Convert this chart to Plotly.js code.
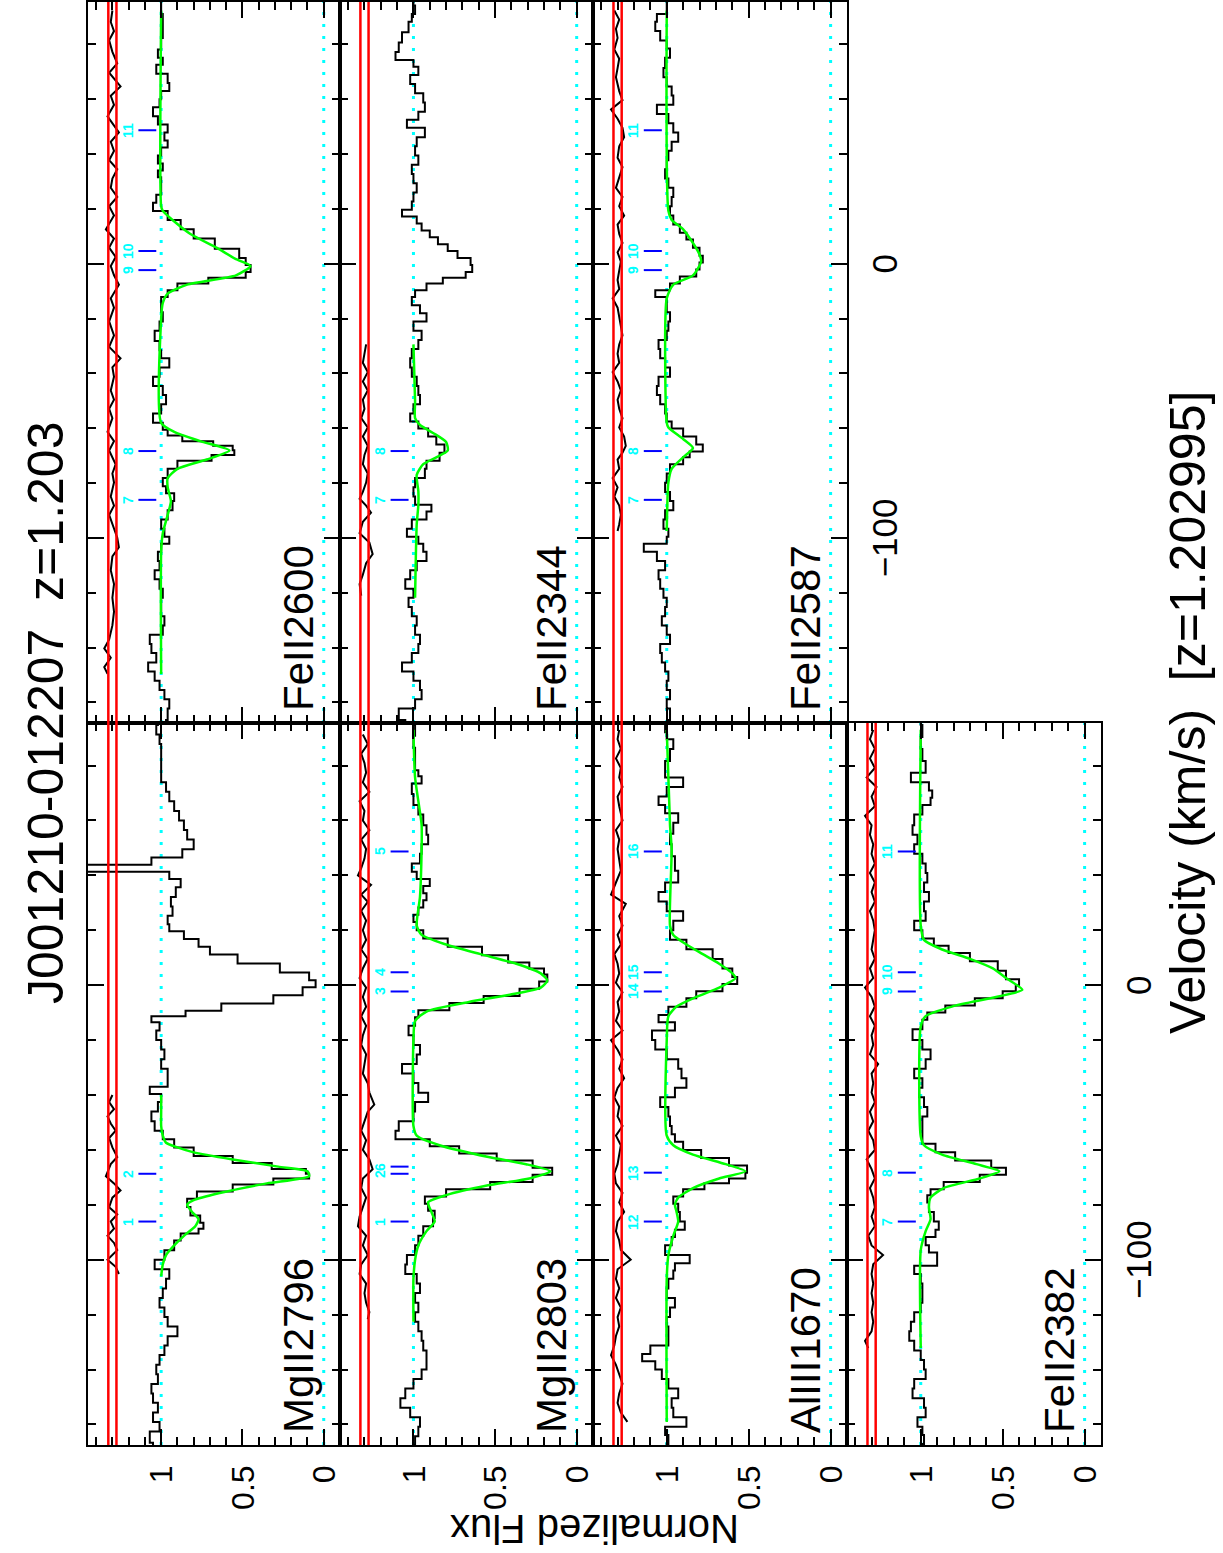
<!DOCTYPE html>
<html>
<head>
<meta charset="utf-8">
<script src="https://cdn.plot.ly/plotly-3.0.1.min.js"></script>
<style>
html, body { margin:0; padding:0; width:1223px; height:1553px; overflow:hidden; background:#ffffff; }
#wrap { position:absolute; left:0; top:0; width:1553px; height:1223px; transform-origin:0 0; transform:translate(0px,1553px) rotate(-90deg); }
</style>
</head>
<body>
<div id="wrap"></div>
<script>
// ---------------- data (velocity in km/s, normalized flux) ----------------
const vel_MgII2796 = [96.5, 93.0, 89.6, 86.1, 82.6, 79.1, 75.7, 72.2, 68.7, 65.2, 61.7, 58.3, 54.8, 51.3, 47.8, 45.2, 42.6, 40.0, 37.4, 33.9, 30.4, 27.0, 23.5, 20.9, 18.3, 15.3, 12.7, 9.6, 6.1, 3.1, 0.5, -2.1, -5.2, -8.2, -10.4, -12.2, -14.8, -18.3, -21.7, -25.2, -28.7, -32.2, -35.7, -38.3, -40.9, -44.3, -47.8, -51.3, -54.8, -57.4, -60.9, -63.5, -66.1, -67.8, -69.6, -71.3, -73.9, -76.5, -79.1, -82.6, -85.2, -87.8, -89.6, -91.3, -94.8, -98.3, -101.7, -105.2, -108.7, -112.2, -115.7, -119.1, -122.6, -126.1, -129.6, -133.0, -136.5, -140.0, -143.5, -147.0, -150.4, -153.9, -157.4, -160.9, -164.3, -169.0];
const flux_MgII2796 = [1.02, 1.03, 1.01, 1.00, 1.00, 1.00, 1.00, 0.97, 0.95, 0.92, 0.89, 0.86, 0.84, 0.80, 0.87, 1.06, 1.48, 0.95, 0.88, 0.91, 0.94, 0.93, 0.96, 0.95, 0.86, 0.77, 0.70, 0.53, 0.27, 0.09, 0.05, 0.13, 0.31, 0.63, 0.85, 1.06, 1.01, 1.03, 1.00, 0.98, 1.00, 0.96, 0.96, 1.07, 1.00, 1.02, 1.06, 1.04, 0.99, 0.92, 0.80, 0.56, 0.32, 0.11, 0.09, 0.31, 0.56, 0.78, 0.84, 0.82, 0.76, 0.74, 0.77, 0.88, 0.92, 0.98, 1.04, 0.95, 0.97, 0.99, 1.01, 0.98, 0.96, 0.90, 0.96, 0.98, 1.01, 1.03, 1.02, 1.06, 1.05, 1.02, 1.05, 1.01, 1.07, 1.05];
const fitVel_MgII2796 = [-40.0, -46.1, -51.3, -54.8, -57.4, -59.1, -60.9, -63.5, -66.1, -67.8, -69.6, -72.2, -75.7, -78.3, -80.0, -82.6, -85.2, -87.8, -91.3, -94.8, -98.3, -101.7, -106.1];
const fitFlux_MgII2796 = [1.00, 1.00, 1.00, 0.99, 0.97, 0.90, 0.80, 0.56, 0.28, 0.10, 0.09, 0.35, 0.64, 0.80, 0.84, 0.81, 0.77, 0.79, 0.86, 0.92, 0.97, 0.99, 1.00];
const resVel_MgII2796 = [-40.0, -42.6, -45.2, -47.8, -50.4, -53.0, -55.7, -59.1, -62.6, -65.2, -69.6, -72.2, -74.8, -77.4, -80.9, -83.5, -86.1, -88.7, -91.3, -93.9, -96.5, -100.0, -102.6, -105.2];
const resFlux_MgII2796 = [1.30, 1.32, 1.29, 1.33, 1.31, 1.28, 1.32, 1.30, 1.27, 1.31, 1.34, 1.29, 1.25, 1.30, 1.32, 1.27, 1.31, 1.29, 1.33, 1.29, 1.27, 1.33, 1.28, 1.26];
const compVel_MgII2796 = [-86.1, -68.7];
const compLab_MgII2796 = ['1', '2'];

const vel_MgII2803 = [96.5, 93.0, 88.7, 84.3, 79.1, 77.4, 74.8, 72.2, 67.0, 64.3, 60.0, 56.5, 53.0, 49.6, 46.1, 42.6, 40.0, 37.4, 34.8, 32.2, 29.6, 27.0, 24.3, 21.7, 18.3, 15.7, 12.2, 9.6, 7.0, 5.2, 2.6, 0.0, -2.6, -5.2, -7.8, -10.4, -13.0, -16.5, -20.0, -23.5, -27.0, -30.4, -33.9, -37.4, -40.9, -44.3, -47.8, -51.3, -54.8, -57.4, -60.0, -62.6, -65.2, -67.8, -70.4, -73.0, -75.7, -78.3, -80.9, -83.5, -86.1, -89.6, -93.0, -96.5, -100.0, -103.5, -107.0, -110.4, -113.9, -117.4, -120.9, -124.3, -127.8, -131.3, -134.8, -138.3, -141.7, -145.2, -148.7, -152.2, -155.7, -159.1, -162.6, -166.0, -169.0];
const flux_MgII2803 = [1.00, 0.99, 1.00, 0.99, 0.99, 0.97, 0.95, 1.01, 1.00, 0.97, 0.94, 0.92, 0.91, 0.95, 0.96, 1.01, 0.98, 0.90, 0.94, 0.92, 0.94, 0.97, 1.00, 0.98, 0.94, 0.79, 0.58, 0.42, 0.29, 0.20, 0.18, 0.23, 0.35, 0.57, 0.78, 0.97, 0.99, 1.03, 1.00, 0.96, 0.98, 1.07, 1.00, 0.97, 0.91, 0.99, 1.00, 1.09, 1.11, 0.90, 0.72, 0.49, 0.27, 0.15, 0.27, 0.53, 0.80, 0.93, 0.91, 0.87, 0.88, 0.94, 0.97, 0.99, 1.04, 1.05, 0.98, 0.96, 0.99, 0.97, 0.99, 0.97, 0.95, 0.94, 0.92, 0.92, 0.95, 1.00, 1.05, 1.08, 1.02, 0.96, 0.97, 0.99, 1.00];
const fitVel_MgII2803 = [93.0, 75.7, 58.3, 49.6, 32.2, 21.7, 18.3, 14.8, 11.3, 7.8, 4.3, 1.7, -0.9, -3.5, -6.1, -9.6, -13.0, -20.0, -51.3, -54.8, -58.3, -62.6, -65.2, -67.8, -70.4, -73.0, -76.5, -79.1, -82.6, -86.1, -89.6, -94.8, -100.0, -107.0, -122.6];
const fitFlux_MgII2803 = [1.00, 0.99, 0.95, 0.95, 0.96, 0.98, 0.95, 0.80, 0.59, 0.37, 0.22, 0.18, 0.22, 0.41, 0.66, 0.92, 0.99, 1.00, 1.00, 0.98, 0.84, 0.54, 0.31, 0.16, 0.29, 0.55, 0.80, 0.91, 0.89, 0.87, 0.92, 0.97, 0.99, 1.00, 1.00];
const resVel_MgII2803 = [91.3, 87.8, 84.3, 80.9, 77.4, 73.9, 70.4, 67.0, 63.5, 60.0, 56.5, 53.0, 49.6, 46.1, 42.6, 40.0, 36.5, 33.0, 30.4, 27.0, 23.5, 20.0, 16.5, 13.0, 9.6, 6.1, 2.6, -0.9, -4.3, -7.8, -11.3, -14.8, -18.3, -21.7, -25.2, -28.7, -32.2, -35.7, -39.1, -43.5, -46.1, -49.6, -53.0, -56.5, -60.0, -63.5, -67.0, -70.4, -73.9, -77.4, -80.9, -84.3, -87.8, -91.3, -94.8, -98.3, -101.7, -105.2, -108.7, -112.2, -115.7, -119.1, -121.7];
const resFlux_MgII2803 = [1.31, 1.28, 1.32, 1.30, 1.29, 1.31, 1.27, 1.33, 1.30, 1.31, 1.27, 1.32, 1.29, 1.30, 1.32, 1.34, 1.26, 1.32, 1.28, 1.32, 1.29, 1.31, 1.29, 1.32, 1.28, 1.31, 1.33, 1.29, 1.31, 1.29, 1.32, 1.29, 1.31, 1.32, 1.29, 1.30, 1.31, 1.28, 1.27, 1.24, 1.28, 1.30, 1.32, 1.29, 1.31, 1.27, 1.25, 1.31, 1.32, 1.29, 1.31, 1.33, 1.34, 1.29, 1.31, 1.28, 1.32, 1.33, 1.29, 1.30, 1.29, 1.27, 1.28];
const compVel_MgII2803 = [-86.1, -68.7, -66.1, -2.3, 4.7, 48.7];
const compLab_MgII2803 = ['1', '2', '6', '3', '4', '5'];

const vel_AlIII1670 = [96.5, 93.0, 91.3, 87.8, 84.3, 79.1, 77.4, 73.9, 70.4, 67.0, 64.3, 60.9, 57.4, 53.0, 49.6, 44.3, 39.1, 35.7, 32.2, 28.7, 25.2, 21.7, 18.3, 14.8, 11.3, 7.8, 4.3, 1.7, -0.9, -3.5, -6.1, -9.6, -12.2, -14.8, -18.3, -21.7, -25.2, -28.7, -32.2, -35.7, -39.1, -42.6, -46.1, -49.6, -53.0, -55.7, -58.3, -61.7, -64.3, -67.0, -69.6, -71.3, -73.0, -75.7, -78.3, -80.9, -84.3, -87.8, -90.4, -93.0, -96.5, -100.0, -102.6, -105.2, -108.7, -112.2, -115.7, -119.1, -122.6, -126.1, -129.6, -133.0, -135.7, -138.3, -141.7, -145.2, -148.7, -152.2, -155.7, -159.1, -162.6, -165.2, -169.0];
const flux_AlIII1670 = [1.00, 1.01, 1.00, 0.96, 0.98, 1.01, 1.01, 0.90, 1.00, 1.05, 1.01, 0.93, 0.96, 0.98, 0.97, 0.95, 0.93, 1.01, 1.05, 1.00, 0.90, 0.96, 0.98, 0.88, 0.72, 0.66, 0.60, 0.57, 0.66, 0.82, 0.88, 0.99, 1.05, 0.95, 1.09, 1.07, 1.00, 0.93, 0.91, 0.88, 0.95, 1.04, 0.99, 0.98, 0.97, 0.95, 0.90, 0.79, 0.62, 0.51, 0.52, 0.62, 0.77, 0.90, 0.96, 0.93, 0.92, 0.89, 0.95, 0.97, 1.01, 0.86, 0.95, 0.96, 0.99, 1.00, 0.95, 0.98, 1.00, 0.99, 0.99, 1.10, 1.15, 1.07, 1.03, 0.99, 0.93, 0.97, 0.96, 0.88, 1.01, 0.99, 1.00];
const fitVel_AlIII1670 = [93.0, 58.3, 49.6, 21.7, 18.3, 14.8, 11.3, 7.8, 4.3, 2.6, -0.9, -4.3, -7.8, -11.3, -20.0, -54.8, -58.3, -61.7, -65.2, -67.8, -70.4, -73.9, -77.4, -80.0, -82.6, -86.1, -91.3, -98.3, -107.0, -159.1];
const fitFlux_AlIII1670 = [1.00, 0.98, 0.97, 0.98, 0.96, 0.88, 0.78, 0.68, 0.60, 0.58, 0.68, 0.82, 0.94, 0.99, 1.00, 1.00, 0.96, 0.84, 0.64, 0.52, 0.68, 0.84, 0.93, 0.95, 0.94, 0.93, 0.96, 0.99, 1.00, 1.00];
const resVel_AlIII1670 = [93.0, 89.6, 86.1, 82.6, 79.1, 75.7, 72.2, 68.7, 65.2, 60.0, 56.5, 53.0, 49.6, 46.1, 41.7, 37.4, 33.0, 29.6, 25.2, 21.7, 18.3, 14.8, 11.3, 7.8, 4.3, 0.9, -2.6, -6.1, -9.6, -13.0, -16.5, -20.0, -23.5, -27.0, -30.4, -33.9, -37.4, -40.9, -44.3, -47.8, -51.3, -54.8, -58.3, -61.7, -65.2, -68.7, -72.2, -75.7, -79.1, -82.6, -86.1, -89.6, -93.0, -96.5, -100.0, -103.5, -107.0, -110.4, -113.9, -117.4, -120.9, -124.3, -127.8, -131.3, -134.8, -138.3, -141.7, -145.2, -148.7, -152.2, -155.7, -159.1];
const resFlux_AlIII1670 = [1.29, 1.30, 1.28, 1.31, 1.28, 1.29, 1.27, 1.30, 1.29, 1.27, 1.31, 1.29, 1.30, 1.29, 1.28, 1.31, 1.34, 1.25, 1.29, 1.27, 1.30, 1.28, 1.32, 1.30, 1.29, 1.31, 1.27, 1.30, 1.29, 1.31, 1.27, 1.34, 1.30, 1.27, 1.29, 1.26, 1.30, 1.32, 1.29, 1.30, 1.27, 1.31, 1.28, 1.29, 1.30, 1.32, 1.31, 1.27, 1.29, 1.26, 1.30, 1.31, 1.29, 1.28, 1.22, 1.30, 1.31, 1.29, 1.31, 1.28, 1.30, 1.29, 1.31, 1.32, 1.34, 1.31, 1.29, 1.27, 1.29, 1.30, 1.28, 1.24];
const compVel_AlIII1670 = [-86.1, -68.3, -2.3, 4.7, 48.7];
const compLab_AlIII1670 = ['12', '13', '14', '15', '16'];

const vel_FeII2382 = [96.5, 93.0, 87.8, 84.3, 79.1, 75.7, 72.2, 69.6, 67.0, 64.3, 60.0, 56.5, 53.0, 49.6, 46.1, 42.6, 39.1, 35.7, 32.2, 28.7, 25.2, 21.7, 18.3, 15.7, 13.0, 10.4, 7.0, 3.5, 0.9, -0.9, -3.5, -6.1, -8.7, -11.3, -13.9, -18.3, -21.7, -25.2, -28.7, -32.2, -35.7, -39.1, -42.6, -46.1, -49.6, -53.0, -56.5, -59.1, -62.6, -65.2, -67.8, -70.4, -73.0, -75.7, -77.4, -80.9, -84.3, -87.8, -90.4, -93.0, -96.5, -98.3, -100.9, -103.5, -107.0, -110.4, -113.9, -117.4, -120.9, -124.3, -127.8, -131.3, -134.8, -138.3, -141.7, -145.2, -148.7, -152.2, -155.7, -159.1, -162.6, -165.2, -169.0];
const flux_FeII2382 = [1.00, 0.99, 1.00, 0.99, 0.97, 1.06, 0.95, 0.93, 0.94, 0.99, 1.04, 1.05, 1.02, 1.04, 0.99, 0.97, 0.96, 0.98, 0.95, 0.98, 0.97, 1.04, 0.99, 0.92, 0.83, 0.70, 0.53, 0.48, 0.40, 0.42, 0.50, 0.67, 0.85, 0.96, 0.99, 1.05, 0.99, 0.94, 0.97, 1.04, 0.99, 1.01, 0.98, 0.96, 0.99, 0.99, 0.99, 0.91, 0.79, 0.57, 0.48, 0.64, 0.86, 0.94, 0.96, 0.95, 0.92, 0.89, 0.91, 0.97, 0.95, 0.90, 0.90, 1.04, 1.00, 0.99, 0.99, 1.00, 1.04, 1.06, 1.07, 1.04, 1.00, 0.98, 0.97, 1.04, 1.05, 0.98, 0.97, 1.02, 0.99, 0.98, 0.99];
const fitVel_FeII2382 = [93.0, 21.7, 16.5, 13.0, 9.6, 6.1, 2.6, -1.7, -4.3, -7.8, -11.3, -15.0, -55.0, -58.3, -61.7, -65.2, -67.8, -70.4, -73.9, -77.4, -80.9, -85.2, -89.6, -96.5, -132.2];
const fitFlux_FeII2382 = [1.00, 1.00, 0.98, 0.87, 0.70, 0.56, 0.48, 0.38, 0.54, 0.81, 0.97, 1.00, 1.00, 0.98, 0.87, 0.66, 0.52, 0.64, 0.86, 0.94, 0.95, 0.94, 0.97, 1.00, 1.00];
const resVel_FeII2382 = [93.0, 89.6, 86.1, 82.6, 79.1, 75.7, 72.2, 68.7, 65.2, 61.7, 58.3, 54.8, 51.3, 47.8, 44.3, 40.9, 37.4, 33.9, 30.4, 27.0, 23.5, 20.0, 16.5, 13.0, 9.6, 6.1, 2.6, -0.9, -4.3, -7.8, -11.3, -14.8, -18.3, -21.7, -25.2, -28.7, -32.2, -35.7, -39.1, -42.6, -46.1, -49.6, -53.0, -56.5, -60.0, -63.5, -67.0, -70.4, -73.9, -77.4, -80.9, -84.3, -87.8, -91.3, -94.8, -98.3, -101.7, -105.2, -108.7, -112.2, -115.7, -119.1, -122.6, -126.1, -129.6, -132.2];
const resFlux_FeII2382 = [1.29, 1.31, 1.28, 1.31, 1.28, 1.33, 1.27, 1.30, 1.28, 1.34, 1.30, 1.31, 1.29, 1.30, 1.28, 1.31, 1.28, 1.30, 1.28, 1.31, 1.29, 1.28, 1.29, 1.30, 1.28, 1.31, 1.29, 1.34, 1.30, 1.28, 1.31, 1.28, 1.30, 1.29, 1.31, 1.26, 1.30, 1.29, 1.30, 1.28, 1.31, 1.29, 1.32, 1.29, 1.28, 1.33, 1.30, 1.28, 1.31, 1.29, 1.28, 1.30, 1.28, 1.32, 1.30, 1.23, 1.29, 1.30, 1.29, 1.30, 1.29, 1.30, 1.29, 1.30, 1.34, 1.32];
const compVel_FeII2382 = [-86.1, -68.3, -2.3, 4.7, 48.7];
const compLab_FeII2382 = ['7', '8', '9', '10', '11'];

const vel_FeII2600 = [96.0, 92.4, 89.9, 84.9, 79.8, 76.5, 73.9, 71.4, 67.2, 64.7, 61.3, 58.8, 55.5, 52.1, 49.6, 46.2, 43.7, 41.2, 37.8, 35.3, 32.8, 30.3, 26.9, 23.5, 21.0, 17.6, 14.3, 10.9, 7.6, 3.4, 0.8, -1.7, -4.2, -5.9, -8.4, -10.9, -13.4, -16.0, -19.3, -22.7, -26.1, -30.3, -32.8, -36.1, -39.5, -42.9, -46.2, -49.6, -52.9, -56.3, -59.7, -61.3, -63.9, -65.5, -67.2, -68.9, -70.6, -73.1, -76.5, -79.8, -82.4, -84.9, -88.2, -91.6, -95.0, -98.3, -100.8, -103.4, -106.7, -110.1, -113.4, -116.8, -120.2, -123.5, -126.9, -130.3, -133.6, -137.0, -140.3, -143.7, -147.1, -150.4, -153.8, -157.1, -160.5, -163.9, -169.0];
const flux_FeII2600 = [1.00, 1.00, 0.99, 0.99, 1.00, 1.02, 0.99, 1.03, 0.96, 0.95, 1.00, 1.01, 1.05, 1.02, 0.96, 0.98, 0.96, 1.00, 1.02, 0.99, 1.02, 1.00, 1.00, 1.03, 1.05, 0.96, 0.88, 0.80, 0.67, 0.52, 0.48, 0.45, 0.48, 0.71, 0.90, 0.96, 1.00, 1.00, 0.99, 1.01, 1.04, 1.01, 1.00, 0.95, 1.01, 1.05, 0.99, 0.97, 1.00, 1.05, 0.99, 0.96, 0.87, 0.68, 0.56, 0.55, 0.69, 0.90, 0.96, 0.99, 0.97, 0.92, 0.93, 0.96, 1.00, 0.98, 0.95, 1.00, 1.02, 1.01, 1.04, 1.01, 0.99, 1.00, 1.00, 0.98, 0.99, 1.07, 1.06, 1.03, 1.08, 1.04, 1.01, 0.98, 0.95, 0.96, 0.97];
const fitVel_FeII2600 = [92.4, 21.0, 19.3, 16.0, 10.9, 5.9, 1.7, -0.8, -4.2, -7.6, -10.9, -14.3, -20.0, -58.0, -61.3, -64.7, -68.1, -71.4, -74.8, -78.2, -81.5, -86.6, -91.6, -98.3, -105.0, -149.6];
const fitFlux_FeII2600 = [1.00, 1.00, 0.99, 0.93, 0.82, 0.66, 0.54, 0.45, 0.54, 0.84, 0.96, 0.99, 1.00, 1.00, 0.92, 0.76, 0.58, 0.72, 0.90, 0.96, 0.96, 0.94, 0.96, 0.99, 1.00, 1.00];
const resVel_FeII2600 = [92.4, 88.2, 84.9, 81.5, 77.3, 73.1, 69.7, 64.7, 61.3, 58.0, 53.8, 50.4, 47.9, 44.5, 41.2, 37.8, 34.5, 31.1, 27.7, 24.4, 21.0, 17.6, 12.6, 9.2, 5.9, 2.5, -0.8, -4.2, -7.6, -12.6, -16.0, -21.0, -26.1, -30.3, -34.5, -37.8, -41.2, -46.2, -49.6, -52.9, -56.3, -61.3, -64.7, -68.1, -73.1, -76.5, -79.8, -84.9, -88.2, -91.6, -96.6, -99.9, -103.4, -106.7, -111.8, -116.8, -121.8, -126.9, -131.9, -137.0, -140.3, -143.7, -147.1, -149.6];
const resFlux_FeII2600 = [1.30, 1.31, 1.29, 1.32, 1.30, 1.27, 1.32, 1.25, 1.31, 1.29, 1.33, 1.29, 1.26, 1.31, 1.29, 1.32, 1.27, 1.30, 1.31, 1.27, 1.32, 1.29, 1.34, 1.29, 1.32, 1.28, 1.31, 1.29, 1.26, 1.31, 1.29, 1.32, 1.29, 1.32, 1.25, 1.30, 1.29, 1.31, 1.29, 1.32, 1.30, 1.33, 1.29, 1.32, 1.28, 1.30, 1.29, 1.31, 1.29, 1.32, 1.29, 1.27, 1.26, 1.30, 1.31, 1.29, 1.30, 1.29, 1.30, 1.32, 1.35, 1.31, 1.35, 1.33];
const compVel_FeII2600 = [-86.1, -68.3, -2.3, 4.7, 48.7];
const compLab_FeII2600 = ['7', '8', '9', '10', '11'];

const vel_FeII2344 = [96.0, 92.4, 89.9, 86.6, 82.4, 79.0, 75.6, 73.1, 70.6, 67.2, 63.9, 60.5, 57.1, 53.8, 51.3, 47.9, 44.5, 41.2, 37.8, 34.5, 31.1, 27.7, 24.4, 21.0, 18.5, 16.0, 13.4, 10.9, 8.4, 5.9, 3.4, 0.8, -1.7, -4.2, -5.9, -8.4, -10.9, -13.4, -16.8, -19.3, -22.7, -26.1, -29.4, -32.8, -36.1, -39.5, -42.9, -46.2, -49.6, -52.9, -56.3, -58.8, -61.3, -64.7, -67.2, -70.6, -73.1, -76.5, -79.8, -83.2, -86.6, -89.1, -91.6, -95.0, -98.3, -100.8, -103.4, -106.7, -110.1, -113.4, -116.8, -120.2, -123.5, -126.9, -130.3, -133.6, -137.0, -140.3, -143.7, -147.1, -150.4, -153.8, -157.1, -160.5, -163.9, -169.0];
const flux_FeII2344 = [1.00, 0.99, 1.01, 1.03, 1.07, 1.09, 1.11, 1.00, 0.97, 1.02, 0.99, 0.94, 0.93, 0.97, 1.04, 0.93, 0.98, 0.99, 0.97, 1.01, 1.00, 0.98, 1.00, 1.01, 1.07, 0.98, 0.95, 0.90, 0.85, 0.79, 0.73, 0.65, 0.64, 0.68, 0.82, 0.92, 0.99, 1.01, 0.96, 0.92, 1.00, 0.95, 0.97, 1.01, 1.02, 1.01, 0.98, 0.97, 0.96, 1.00, 1.02, 0.97, 0.91, 0.86, 0.81, 0.84, 0.92, 0.93, 0.99, 1.00, 0.99, 0.89, 0.92, 1.01, 1.04, 0.97, 0.94, 0.92, 0.98, 1.02, 1.05, 1.00, 1.03, 1.01, 0.98, 0.99, 0.96, 0.97, 1.01, 1.07, 1.00, 0.96, 0.95, 0.99, 1.09, 1.05];
const fitVel_FeII2344 = [-29.4, -50.0, -56.3, -58.8, -61.7, -65.0, -68.1, -70.6, -73.1, -77.0, -83.0, -88.0, -95.0, -121.8];
const fitFlux_FeII2344 = [1.00, 0.99, 0.99, 0.96, 0.88, 0.80, 0.79, 0.86, 0.94, 0.98, 0.97, 0.97, 0.98, 0.99];
const resVel_FeII2344 = [-29.4, -32.8, -36.1, -39.5, -42.9, -46.2, -49.6, -52.9, -56.3, -59.7, -63.0, -66.4, -69.7, -73.1, -76.5, -79.8, -83.2, -85.7, -88.2, -90.8, -94.1, -98.3, -101.7, -105.9, -109.2, -113.4, -116.8, -121.0];
const resFlux_FeII2344 = [1.29, 1.30, 1.31, 1.28, 1.31, 1.28, 1.31, 1.30, 1.32, 1.28, 1.31, 1.28, 1.30, 1.31, 1.28, 1.29, 1.31, 1.33, 1.29, 1.26, 1.31, 1.33, 1.27, 1.25, 1.29, 1.31, 1.33, 1.32];
const compVel_FeII2344 = [-86.1, -68.3];
const compLab_FeII2344 = ['7', '8'];

const vel_FeII2587 = [96.0, 92.4, 89.9, 86.6, 83.2, 79.8, 77.3, 73.1, 69.7, 66.4, 63.0, 59.7, 56.3, 52.9, 49.6, 46.2, 42.9, 39.5, 36.1, 32.8, 29.4, 26.1, 22.7, 19.3, 16.0, 12.6, 10.1, 7.6, 4.2, 1.7, -0.8, -3.4, -5.9, -8.4, -10.9, -13.4, -16.0, -19.3, -22.7, -26.1, -29.4, -32.8, -36.1, -39.5, -42.9, -46.2, -49.6, -52.9, -56.3, -58.8, -61.3, -64.7, -67.2, -69.7, -71.4, -74.8, -78.2, -81.5, -84.9, -88.2, -91.6, -95.0, -98.3, -100.8, -103.4, -106.7, -110.1, -113.4, -116.8, -120.2, -123.5, -126.9, -130.3, -133.6, -137.0, -140.3, -143.7, -147.1, -150.4, -153.8, -157.1, -160.5, -163.9, -169.0];
const flux_FeII2587 = [1.00, 1.00, 1.06, 1.07, 1.04, 1.00, 0.98, 1.01, 1.02, 1.00, 0.97, 0.96, 1.06, 0.99, 0.96, 0.93, 0.97, 0.99, 1.00, 1.01, 0.99, 0.96, 0.97, 0.98, 0.96, 0.92, 0.88, 0.84, 0.80, 0.78, 0.80, 0.82, 0.92, 0.98, 1.07, 1.00, 1.00, 0.98, 0.99, 1.00, 1.05, 1.04, 1.01, 0.98, 1.05, 1.06, 1.04, 1.01, 1.00, 0.97, 0.90, 0.82, 0.78, 0.86, 0.90, 0.98, 1.00, 1.01, 0.98, 0.96, 1.01, 1.02, 0.99, 1.00, 1.14, 1.06, 1.01, 1.05, 1.04, 1.02, 1.00, 1.01, 1.03, 1.00, 0.98, 1.04, 1.03, 1.01, 0.99, 1.00, 0.98, 1.00, 0.98, 0.99];
const fitVel_FeII2587 = [92.4, 19.3, 16.0, 12.6, 7.6, 3.4, 0.8, -4.2, -7.6, -12.6, -58.0, -59.7, -63.9, -67.2, -70.6, -74.8, -79.8, -97.5];
const fitFlux_FeII2587 = [1.00, 0.99, 0.97, 0.90, 0.84, 0.80, 0.79, 0.84, 0.96, 1.00, 1.00, 0.99, 0.90, 0.84, 0.90, 0.97, 0.99, 1.00];
const resVel_FeII2587 = [92.4, 89.1, 85.7, 82.4, 78.2, 74.8, 71.4, 68.1, 63.0, 59.7, 56.3, 52.9, 49.6, 46.2, 42.9, 38.7, 35.3, 31.1, 27.7, 24.4, 21.0, 17.6, 14.3, 10.9, 7.6, 4.2, 0.8, -2.5, -5.9, -9.2, -12.6, -16.0, -19.3, -22.7, -26.1, -29.4, -32.8, -36.1, -39.5, -42.9, -46.2, -49.6, -52.9, -56.3, -59.7, -63.0, -66.4, -68.9, -71.4, -74.8, -78.2, -81.5, -84.9, -88.2, -91.6, -95.0, -97.5];
const resFlux_FeII2587 = [1.32, 1.29, 1.31, 1.30, 1.32, 1.29, 1.30, 1.31, 1.29, 1.27, 1.34, 1.30, 1.27, 1.26, 1.29, 1.30, 1.27, 1.29, 1.31, 1.27, 1.29, 1.26, 1.30, 1.29, 1.27, 1.30, 1.28, 1.29, 1.30, 1.29, 1.33, 1.30, 1.29, 1.28, 1.27, 1.29, 1.30, 1.29, 1.33, 1.30, 1.28, 1.30, 1.29, 1.27, 1.29, 1.26, 1.25, 1.27, 1.30, 1.29, 1.33, 1.30, 1.32, 1.29, 1.28, 1.29, 1.30];
const compVel_FeII2587 = [-86.1, -68.3, -2.3, 4.7, 48.7];
const compLab_FeII2587 = ['7', '8', '9', '10', '11'];

// reference levels
const redLevels = [1.275, 1.325];
const guideLevels = [0, 1];
const fluxTickVals = [0, 0.5, 1];
const fluxTickText = ['0', '0.5', '1'];

// ---------------- layout (landscape page, rotated afterwards) ----------------
const FONT = 'Liberation Sans, Arial, Helvetica, sans-serif';
const W = 1553, H = 1223;
const colPx = [[108, 830], [830, 1551]];
const rowPx = [[88, 340], [340, 593], [593, 847], [847, 1101]];
const velRange = [-167.5, 95.5];
const fluxRange = [-0.1, 1.45];

const panels = [
  {label: 'MgII2796', col: 0, row: 0, v: vel_MgII2796, f: flux_MgII2796, fv: fitVel_MgII2796, ff: fitFlux_MgII2796, rv: resVel_MgII2796, rf: resFlux_MgII2796, cv: compVel_MgII2796, cl: compLab_MgII2796},
  {label: 'MgII2803', col: 0, row: 1, v: vel_MgII2803, f: flux_MgII2803, fv: fitVel_MgII2803, ff: fitFlux_MgII2803, rv: resVel_MgII2803, rf: resFlux_MgII2803, cv: compVel_MgII2803, cl: compLab_MgII2803},
  {label: 'AlIII1670', col: 0, row: 2, v: vel_AlIII1670, f: flux_AlIII1670, fv: fitVel_AlIII1670, ff: fitFlux_AlIII1670, rv: resVel_AlIII1670, rf: resFlux_AlIII1670, cv: compVel_AlIII1670, cl: compLab_AlIII1670},
  {label: 'FeII2382', col: 0, row: 3, v: vel_FeII2382, f: flux_FeII2382, fv: fitVel_FeII2382, ff: fitFlux_FeII2382, rv: resVel_FeII2382, rf: resFlux_FeII2382, cv: compVel_FeII2382, cl: compLab_FeII2382},
  {label: 'FeII2600', col: 1, row: 0, v: vel_FeII2600, f: flux_FeII2600, fv: fitVel_FeII2600, ff: fitFlux_FeII2600, rv: resVel_FeII2600, rf: resFlux_FeII2600, cv: compVel_FeII2600, cl: compLab_FeII2600},
  {label: 'FeII2344', col: 1, row: 1, v: vel_FeII2344, f: flux_FeII2344, fv: fitVel_FeII2344, ff: fitFlux_FeII2344, rv: resVel_FeII2344, rf: resFlux_FeII2344, cv: compVel_FeII2344, cl: compLab_FeII2344},
  {label: 'FeII2587', col: 1, row: 2, v: vel_FeII2587, f: flux_FeII2587, fv: fitVel_FeII2587, ff: fitFlux_FeII2587, rv: resVel_FeII2587, rf: resFlux_FeII2587, cv: compVel_FeII2587, cl: compLab_FeII2587}
];

const layout = {
  width: W, height: H,
  margin: {l: 0, r: 0, t: 0, b: 0, pad: 0},
  paper_bgcolor: '#ffffff', plot_bgcolor: '#ffffff',
  showlegend: false,
  font: {family: FONT, color: '#000000'},
  shapes: [], annotations: []
};
const traces = [];

const axisStyle = {
  showline: true, linecolor: '#000000', linewidth: 2, mirror: 'allticks',
  ticks: 'inside', tickwidth: 2, tickcolor: '#000000',
  showgrid: false, zeroline: false, fixedrange: true
};

panels.forEach((p, i) => {
  const k = i + 1;
  const sfx = k === 1 ? '' : String(k);
  const xa = 'x' + sfx, ya = 'y' + sfx;
  const bottomRow = (p.col === 0 && p.row === 3) || (p.col === 1 && p.row === 2);
  const cx = colPx[p.col], ry = rowPx[p.row];

  layout['xaxis' + sfx] = Object.assign({}, axisStyle, {
    domain: [cx[0] / W, cx[1] / W], range: velRange, anchor: ya,
    tickmode: 'linear', tick0: 0, dtick: 100, ticklen: 16,
    minor: {ticks: 'inside', tickmode: 'linear', tick0: 0, dtick: 20, ticklen: 8, tickwidth: 2, tickcolor: '#000000', showgrid: false},
    showticklabels: bottomRow, tickfont: {family: FONT, size: 35, color: '#000000'},
    ticklabelstandoff: 6
  });
  layout['yaxis' + sfx] = Object.assign({}, axisStyle, {
    domain: [1 - ry[1] / H, 1 - ry[0] / H], range: fluxRange, anchor: xa,
    tickmode: 'array', tickvals: fluxTickVals, ticktext: fluxTickText, ticklen: 16,
    minor: {ticks: 'inside', tickmode: 'linear', tick0: 0, dtick: 0.1, ticklen: 8, tickwidth: 2, tickcolor: '#000000', showgrid: false},
    showticklabels: p.col === 0, tickfont: {family: FONT, size: 32, color: '#000000'},
    ticklabelstandoff: 12
  });

  // spectrum (histogram)
  traces.push({x: p.v, y: p.f, xaxis: xa, yaxis: ya, type: 'scatter', mode: 'lines',
    line: {shape: 'hvh', color: '#000000', width: 2}, hoverinfo: 'skip'});
  // model fit
  traces.push({x: p.fv, y: p.ff, xaxis: xa, yaxis: ya, type: 'scatter', mode: 'lines',
    line: {shape: 'spline', smoothing: 0.6, color: '#00ff00', width: 2.5}, hoverinfo: 'skip'});
  // residuals
  traces.push({x: p.rv, y: p.rf, xaxis: xa, yaxis: ya, type: 'scatter', mode: 'lines',
    line: {color: '#000000', width: 2}, hoverinfo: 'skip'});

  const xdom = xa + ' domain';
  redLevels.forEach(lv => layout.shapes.push({type: 'line', layer: 'above', xref: xdom, x0: 0, x1: 1, yref: ya, y0: lv, y1: lv,
    line: {color: '#ff0000', width: 2.5}}));
  guideLevels.forEach(lv => layout.shapes.push({type: 'line', layer: 'below', xref: xdom, x0: 0, x1: 1, yref: ya, y0: lv, y1: lv,
    line: {color: '#00ffff', width: 3, dash: '3px,9px'}}));
  p.cv.forEach((cv, j) => {
    layout.shapes.push({type: 'line', layer: 'above', xref: xa, x0: cv, x1: cv, yref: ya, y0: 1.03, y1: 1.14,
      line: {color: '#0000ff', width: 2}});
    layout.annotations.push({xref: xa, yref: ya, x: cv, y: 1.205, text: '<b>' + p.cl[j] + '</b>', showarrow: false,
      xanchor: 'center', yanchor: 'middle', font: {family: FONT, size: 14, color: '#00ffff'}});
  });
  // ion label
  layout.annotations.push({xref: xa, yref: ya, x: velRange[0] + 3.5, y: 0.0, text: p.label, showarrow: false,
    xanchor: 'left', yanchor: 'bottom', font: {family: FONT, size: 42, color: '#000000'}});
});

// figure texts
layout.annotations.push({xref: 'paper', yref: 'paper', x: 840 / W, y: 1 - 46 / H, text: 'J001210-012207  z=1.203', showarrow: false,
  xanchor: 'center', yanchor: 'middle', font: {family: FONT, size: 50, color: '#000000'}});
layout.annotations.push({xref: 'paper', yref: 'paper', x: 840 / W, y: 1 - 1188 / H, text: 'Velocity (km/s)  [z=1.202995]', showarrow: false,
  xanchor: 'center', yanchor: 'middle', font: {family: FONT, size: 50, color: '#000000'}});
layout.annotations.push({xref: 'paper', yref: 'paper', x: 24 / W, y: 1 - 595 / H, text: 'Normalized Flux', showarrow: false, textangle: -90,
  xanchor: 'center', yanchor: 'middle', font: {family: FONT, size: 40, color: '#000000'}});

Plotly.newPlot('wrap', traces, layout, {displayModeBar: false, staticPlot: true});
</script>
</body>
</html>
